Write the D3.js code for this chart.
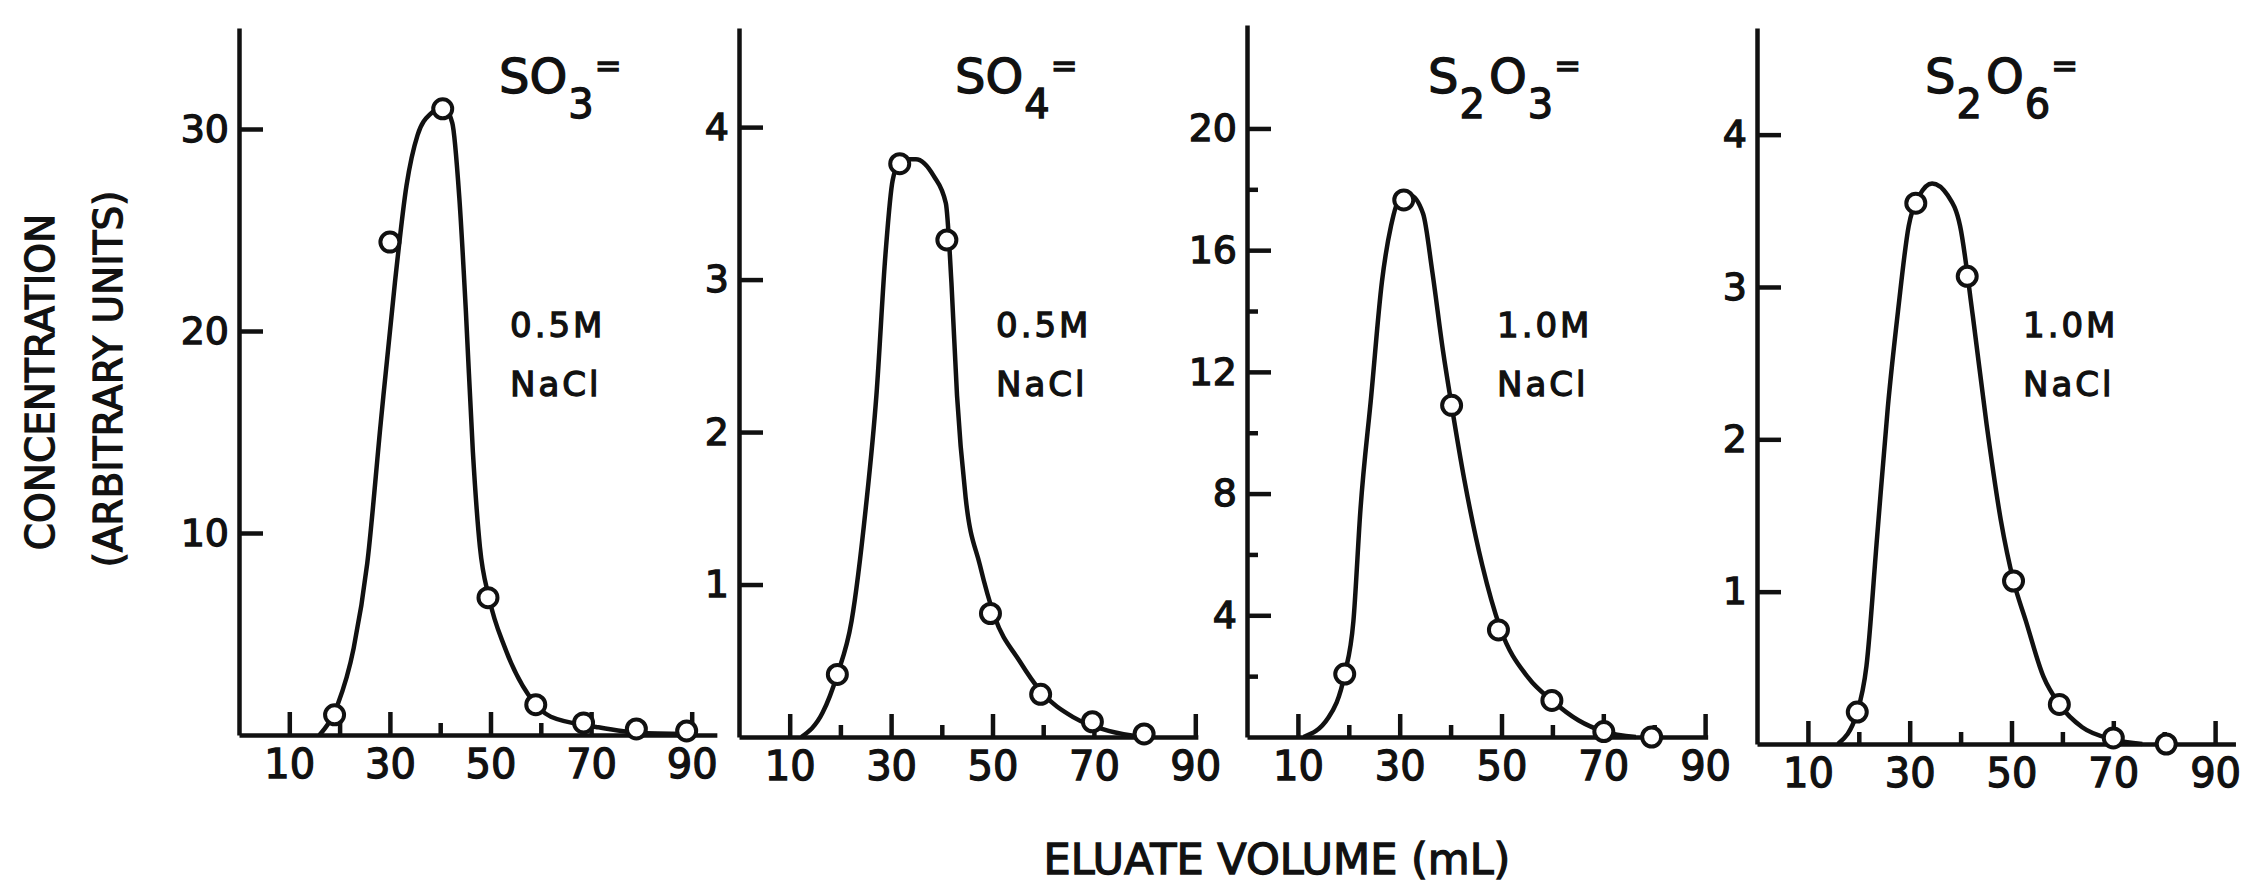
<!DOCTYPE html>
<html>
<head>
<meta charset="utf-8">
<script src="https://cdn.jsdelivr.net/npm/d3@7"></script>
<style>
  html, body { margin: 0; padding: 0; background: #fff; }
  svg text { font-family: "DejaVu Sans", sans-serif; fill: #111; stroke: #111; stroke-width: 1.3px; }
</style>
</head>
<body>
<div id="chart"></div>
<script>
const so3Vol = [19, 30, 40.5, 49.5, 59, 68.5, 79, 89];
const so3Conc = [1.0, 24.4, 31.0, 6.8, 1.5, 0.6, 0.3, 0.2];
const so4Vol = [19.4, 31.7, 41, 49.6, 59.5, 69.7, 79.9];
const so4Conc = [0.41, 3.76, 3.26, 0.81, 0.28, 0.10, 0.02];
const s2o3Vol = [19.2, 30.8, 40.2, 49.4, 59.9, 70.1, 79.5];
const s2o3Conc = [2.07, 17.65, 10.9, 3.52, 1.2, 0.18, 0];
const s2o6Vol = [19.7, 31.2, 41.3, 50.4, 59.4, 70, 80.4];
const s2o6Conc = [0.21, 3.55, 3.07, 1.07, 0.26, 0.04, 0];

// hand drawn curves
const so3FitVol = [16, 19.6, 22.8, 25.5, 28.2, 31, 33.3, 35.5, 38.3, 40.6, 42.4, 43.8, 45.1, 46.5, 47.9, 49.7, 52.9, 57.5, 62, 71, 80, 91];
const so3FitConc = [0, 1.5, 4.3, 8.5, 15.5, 22.4, 27.2, 29.7, 30.8, 31.1, 30.3, 26.6, 21, 14, 9.3, 6.8, 4.3, 2.0, 0.9, 0.4, 0.1, 0.05];
const so4FitVol = [12.3, 16.5, 19.4, 22.2, 25, 27.1, 28.9, 30.3, 32, 34.9, 38.4, 40.8, 41.9, 43, 44.7, 47.5, 50.4, 55.3, 59.5, 65.9, 72.9, 80];
const so4FitConc = [0, 0.16, 0.41, 0.76, 1.5, 2.24, 3.17, 3.65, 3.79, 3.79, 3.68, 3.5, 2.98, 2.24, 1.57, 1.13, 0.79, 0.5, 0.3, 0.13, 0.04, 0];
const s2o3FitVol = [11.1, 16, 19.2, 20.9, 22.3, 24.4, 26.5, 28.3, 30, 32.1, 34.6, 36.4, 38.5, 40.2, 42.7, 46.2, 49.7, 55.3, 59.9, 65.1, 70.1, 76.4];
const s2o3FitConc = [0, 0.64, 2.07, 3.8, 7.5, 11.2, 14.95, 16.8, 17.7, 17.8, 17.2, 15.3, 12.7, 10.9, 8.45, 5.66, 3.6, 1.94, 1.2, 0.55, 0.18, 0];
const s2o6FitVol = [15.9, 19.7, 21.5, 23.6, 25.7, 27.7, 29.8, 31.9, 34.4, 37.5, 39.9, 42.4, 45.1, 47.9, 50.4, 52.8, 56.3, 59.4, 63.9, 70, 75.7];
const s2o6FitConc = [0, 0.21, 0.51, 1.36, 2.21, 2.84, 3.4, 3.6, 3.68, 3.6, 3.4, 2.81, 2.1, 1.47, 1.07, 0.81, 0.44, 0.26, 0.11, 0.03, 0];

// tick labels
const xTicks = [10, 30, 50, 70, 90];
const xMinor = [20, 40, 60, 80];
const so3Ticks = [10, 20, 30];
const so4Ticks = [1, 2, 3, 4];
const s2o3Ticks = [4, 8, 12, 16, 20];
const s2o3Minor = [2, 6, 10, 14, 18];
const s2o6Ticks = [1, 2, 3, 4];

// ion names: [text, 0 normal / 1 subscript / -1 raised]
const so3Ion = [['SO', 0], ['3', 1], ['=', -1]];
const so4Ion = [['SO', 0], ['4', 1], ['=', -1]];
const s2o3Ion = [['S', 0], ['2', 1], ['O', 0], ['3', 1], ['=', -1]];
const s2o6Ion = [['S', 0], ['2', 1], ['O', 0], ['6', 1], ['=', -1]];
const saltLabels = [['0.5M', 'NaCl'], ['0.5M', 'NaCl'], ['1.0M', 'NaCl'], ['1.0M', 'NaCl']];

const width = 2255;
const height = 886;

const svg = d3.select('#chart')
  .append('svg')
  .attr('width', width)
  .attr('height', height);

const panels = [
  { vol: so3Vol, conc: so3Conc, fitVol: so3FitVol, fitConc: so3FitConc, yTicks: so3Ticks, yMinor: [], ion: so3Ion, salt: saltLabels[0],
    left: 239, kx: 5.03, xMax: 95, base: 735, top: 28, yMax: 35, ionX: 495, saltX: 510 },
  { vol: so4Vol, conc: so4Conc, fitVol: so4FitVol, fitConc: so4FitConc, yTicks: so4Ticks, yMinor: [], ion: so4Ion, salt: saltLabels[1],
    left: 739, kx: 5.07, xMax: 90.5, base: 737, top: 28, yMax: 4.65, ionX: 951, saltX: 996 },
  { vol: s2o3Vol, conc: s2o3Conc, fitVol: s2o3FitVol, fitConc: s2o3FitConc, yTicks: s2o3Ticks, yMinor: s2o3Minor, ion: s2o3Ion, salt: saltLabels[2],
    left: 1247, kx: 5.09, xMax: 90.5, base: 737, top: 25, yMax: 23.4, ionX: 1424, saltX: 1497 },
  { vol: s2o6Vol, conc: s2o6Conc, fitVol: s2o6FitVol, fitConc: s2o6FitConc, yTicks: s2o6Ticks, yMinor: [], ion: s2o6Ion, salt: saltLabels[3],
    left: 1757, kx: 5.09, xMax: 94, base: 744, top: 28, yMax: 4.7, ionX: 1921, saltX: 2023 },
];

function styleAxis(g, size) {
  g.attr('font-size', size).attr('font-family', null);
  g.selectAll('path, line').attr('stroke', '#111').attr('stroke-width', 4.5);
  g.selectAll('text').attr('fill', '#111');
}

panels.forEach(p => {
  const x = d3.scaleLinear().domain([0, p.xMax]).range([p.left, p.left + p.xMax * p.kx]);
  const y = d3.scaleLinear().domain([0, p.yMax]).range([p.base, p.top]);
  const g = svg.append('g');

  g.append('g')
    .attr('transform', `translate(${p.left},0)`)
    .call(d3.axisLeft(y).tickValues(p.yTicks).tickSize(-24).tickSizeOuter(0).tickPadding(10).tickFormat(d3.format('d')))
    .call(a => styleAxis(a, 38));

  g.append('g')
    .attr('transform', `translate(${p.left},0)`)
    .call(d3.axisLeft(y).tickValues(p.yMinor).tickSize(-11).tickFormat(''))
    .call(a => a.select('.domain').remove())
    .call(a => styleAxis(a, 38));

  g.append('g')
    .attr('transform', `translate(0,${p.base})`)
    .call(d3.axisBottom(x).tickValues(xTicks).tickSize(-23).tickSizeOuter(0).tickPadding(15))
    .call(a => styleAxis(a, 40));

  g.append('g')
    .attr('transform', `translate(0,${p.base})`)
    .call(d3.axisBottom(x).tickValues(xMinor).tickSize(-12).tickFormat(''))
    .call(a => a.select('.domain').remove())
    .call(a => styleAxis(a, 40));

  const line = d3.line()
    .x(i => x(p.fitVol[i]))
    .y(i => y(p.fitConc[i]))
    .curve(d3.curveMonotoneX);

  g.append('path')
    .attr('d', line(d3.range(p.fitVol.length)))
    .attr('fill', 'none')
    .attr('stroke', '#111')
    .attr('stroke-width', 4.5);

  g.append('g')
    .selectAll('circle')
    .data(d3.range(p.vol.length))
    .join('circle')
      .attr('cx', i => x(p.vol[i]))
      .attr('cy', i => y(p.conc[i]))
      .attr('r', 9.5)
      .attr('fill', '#fff')
      .attr('stroke', '#111')
      .attr('stroke-width', 4);

  // ion label with subscripts
  const t = g.append('text')
    .attr('x', p.ionX)
    .attr('y', 93)
    .attr('font-size', 48);
  let shift = 0;
  p.ion.forEach(([s, k]) => {
    const dy = k === 1 ? 25 : k === -1 ? -16 : 0;
    t.append('tspan')
      .attr('dy', dy - shift)
      .attr('dx', k === 0 ? 4 : 1)
      .attr('font-size', k === -1 ? 32 : k === 1 ? 40 : 48)
      .text(s);
    shift = dy;
  });

  g.append('g')
    .selectAll('text')
    .data(p.salt)
    .join('text')
      .attr('x', p.saltX)
      .attr('y', (d, i) => 337 + i * 59)
      .attr('font-size', 34)
      .attr('letter-spacing', 3)
      .text(d => d);
});

svg.append('text')
  .attr('transform', 'translate(54,382) rotate(-90)')
  .attr('text-anchor', 'middle')
  .attr('font-size', 39)
  .text('CONCENTRATION');

svg.append('text')
  .attr('transform', 'translate(122,379) rotate(-90)')
  .attr('text-anchor', 'middle')
  .attr('font-size', 39)
  .text('(ARBITRARY UNITS)');

svg.append('text')
  .attr('x', 1277)
  .attr('y', 874)
  .attr('text-anchor', 'middle')
  .attr('font-size', 43)
  .text('ELUATE VOLUME (mL)');
</script>
</body>
</html>
